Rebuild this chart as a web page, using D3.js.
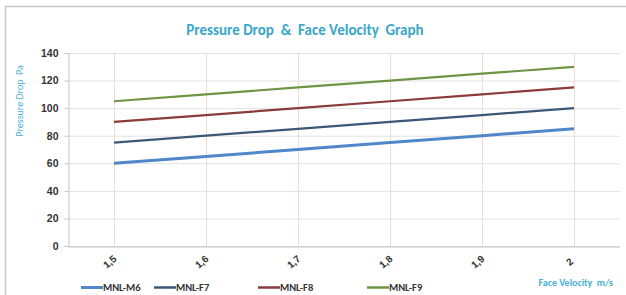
<!DOCTYPE html>
<html>
<head>
<meta charset="utf-8">
<script src="https://cdn.jsdelivr.net/npm/d3@7"></script>
<style>
  body { margin: 0; background: #fff; }
  svg { font-family: Calibri, Lato, "Liberation Sans", Arial, sans-serif; }
  text { white-space: pre; }
</style>
</head>
<body>
<svg id="chart" width="626" height="295"></svg>
<script>
// data
const velocities = ["1,5", "1,6", "1,7", "1,8", "1,9", "2"];
const seriesNames = ["MNL-M6", "MNL-F7", "MNL-F8", "MNL-F9"];
const m6 = [60, 65, 70, 75, 80, 85];
const f7 = [75, 80, 85, 90, 95, 100];
const f8 = [90, 95, 100, 105, 110, 115];
const f9 = [105, 110, 115, 120, 125, 130];
const yTicks = [0, 20, 40, 60, 80, 100, 120, 140];
const lineColors = ["#4f87c9", "#3b5877", "#8a3b3b", "#6f9446"];

const svg = d3.select("#chart");
const margin = { top: 53, right: 6, bottom: 49, left: 68 };
const width = 626, height = 295;

// outer frame
svg.append("rect")
  .attr("x", 5.5).attr("y", 6.5)
  .attr("width", 640).attr("height", 300)
  .attr("fill", "none")
  .attr("stroke", "#c8c8c8")
  .attr("stroke-width", 1.5);

const x = d3.scaleBand()
  .domain(velocities)
  .range([margin.left, width - margin.right]);

const y = d3.scaleLinear()
  .domain([0, 140])
  .range([height - margin.bottom, margin.top]);

// horizontal grid
svg.append("g")
  .selectAll("line")
  .data(yTicks)
  .join("line")
  .attr("x1", margin.left).attr("x2", width - margin.right)
  .attr("y1", d => y(d) + 0.5).attr("y2", d => y(d) + 0.5)
  .attr("stroke", "#e2e2e2");

// vertical grid at categories
svg.append("g")
  .selectAll("line")
  .data(velocities)
  .join("line")
  .attr("x1", d => x(d) + x.bandwidth() / 2 + 0.5)
  .attr("x2", d => x(d) + x.bandwidth() / 2 + 0.5)
  .attr("y1", y(0)).attr("y2", y(140))
  .attr("stroke", "#f3dccb");

// axes
const yAxis = svg.append("g")
  .attr("transform", `translate(${margin.left + 0.5},0)`)
  .call(d3.axisLeft(y).tickValues(yTicks).tickSize(4).tickPadding(6));
yAxis.select(".domain").attr("stroke", "#c4c4c4");
yAxis.selectAll(".tick line").attr("stroke", "#c4c4c4");
yAxis.selectAll("text")
  .attr("fill", "#333")
  .style("font-size", "10.5px")
  .style("font-weight", "bold");

const xAxis = svg.append("g")
  .attr("transform", `translate(0,${y(0) + 0.5})`)
  .call(d3.axisBottom(x).tickSize(0).tickPadding(0));
xAxis.select(".domain").attr("stroke", "#c4c4c4");
xAxis.selectAll("text")
  .attr("fill", "#333")
  .style("font-size", "10px")
  .style("font-weight", "bold")
  .attr("text-anchor", "middle")
  .attr("dy", null)
  .attr("transform", "translate(-2,18) rotate(-40)");

// series lines
const allSeries = [m6, f7, f8, f9];
const line = d3.line()
  .x((d, i) => x(velocities[i]) + x.bandwidth() / 2)
  .y(d => y(d));

svg.append("g")
  .selectAll("path")
  .data(allSeries)
  .join("path")
  .attr("d", d => line(d))
  .attr("fill", "none")
  .attr("stroke", (d, i) => lineColors[i])
  .attr("stroke-width", (d, i) => i === 0 ? 3 : 2.2);

// title
svg.append("text")
  .attr("x", 305).attr("y", 35)
  .attr("text-anchor", "middle")
  .attr("fill", "#3aa6c9")
  .style("font-size", "15px")
  .style("font-weight", "bold")
  .text("Pressure Drop  &  Face Velocity  Graph");

// y label
svg.append("text")
  .attr("transform", "translate(23,101) rotate(-90)")
  .attr("text-anchor", "middle")
  .attr("fill", "#48b0d6")
  .style("font-size", "10px")
  .text("Pressure Drop  Pa");

// x label
svg.append("text")
  .attr("x", 613).attr("y", 286)
  .attr("text-anchor", "end")
  .attr("fill", "#48b0d6")
  .style("font-size", "10px")
  .style("font-weight", "bold")
  .text("Face Velocity  m/s");

// legend
const legendX = [81, 154, 258, 367];
const legend = svg.append("g")
  .selectAll("g")
  .data(seriesNames)
  .join("g")
  .attr("transform", (d, i) => `translate(${legendX[i]},287.5)`);
legend.append("line")
  .attr("x1", 0).attr("x2", 22)
  .attr("stroke", (d, i) => lineColors[i])
  .attr("stroke-width", (d, i) => i === 0 ? 3 : 2.5);
legend.append("text")
  .attr("x", 22).attr("y", 3.5)
  .attr("fill", "#333")
  .style("font-size", "10.5px")
  .style("font-weight", "bold")
  .text(d => d);
</script>
</body>
</html>
